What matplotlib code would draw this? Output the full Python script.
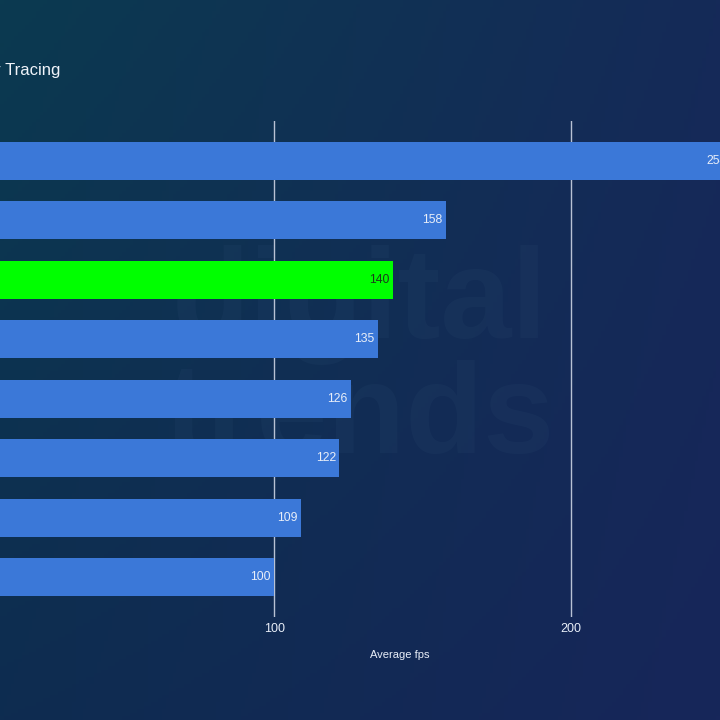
import numpy as np
import matplotlib.pyplot as plt
from matplotlib.colors import to_rgb

plt.rcParams['font.family'] = ['Liberation Sans', 'DejaVu Sans']

# values (top to bottom)
fps = [254, 158, 140, 135, 126, 122, 109, 100]
highlight = [False, False, True, False, False, False, False, False]
xticks = [100, 200]

W, H = 720, 720
fig = plt.figure(figsize=(7.2, 7.2), dpi=100)

# gradient background
bg = fig.add_axes([0, 0, 1, 1], zorder=0)
tl, tr = np.array(to_rgb('#0b3a50')), np.array(to_rgb('#152a58'))
bl, br = np.array(to_rgb('#0e2c50')), np.array(to_rgb('#17265a'))
u = np.linspace(0, 1, 200)[None, :, None]
v = np.linspace(0, 1, 200)[:, None, None]
img = tl*(1-u)*(1-v) + tr*u*(1-v) + bl*(1-u)*v + br*u*v
bg.imshow(img, extent=[0, 1, 0, 1], aspect='auto', origin='upper')
bg.set_xlim(0, 1); bg.set_ylim(0, 1)
bg.axis('off')

# faint watermark
for txt, yy in [('digital', 305), ('trends', 420)]:
    bg.text(360/W, 1-yy/H, txt, ha='center', va='center', fontsize=92,
            fontweight='bold', color='#2a4a70', alpha=0.18)

# main axes: value 0 sits off-canvas at x=-22px
px_per = 2.963
xmax = 300
left = -22
top, bottom = 121, 617
ax = fig.add_axes([left/W, 1-bottom/H, xmax*px_per/W, (bottom-top)/H], zorder=1)
ax.patch.set_alpha(0)

n = len(fps)
y = np.arange(n)
colors = ['#00ff00' if h else '#3b78d8' for h in highlight]
ax.barh(y, fps, height=0.64, color=colors, zorder=3)
for yi, v_, h in zip(y, fps, highlight):
    ax.annotate(str(v_), (v_, yi), xytext=(-2.5, 0), textcoords='offset points',
                ha='right', va='center', fontsize=8.8,
                color='#1b3d1b' if h else '#e8eef8', zorder=4)

m = 40/59.4
ax.set_ylim(n-1+m, -m)
ax.set_xlim(0, xmax)
ax.set_xticks(xticks)
ax.set_yticks([])
ax.grid(axis='x', color='#b8c2d4', linewidth=1, zorder=1)
ax.tick_params(axis='x', length=0, pad=4, labelsize=9, colors='#e8eef8')
for s in ax.spines.values():
    s.set_visible(False)

fig.text(400/W, 1-655/H, 'Average fps', ha='center', va='center',
         fontsize=8, color='#e8eef8')
fig.text(60/W, 1-71/H, 'Ray Tracing', ha='right', va='center',
         fontsize=12, color='#f0f4fa')

fig.savefig('out.png', dpi=100)
